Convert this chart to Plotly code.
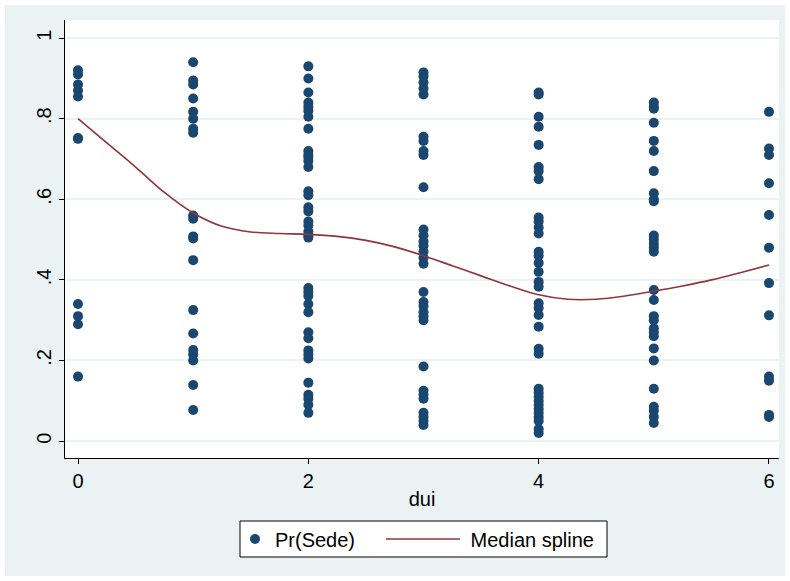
import plotly.graph_objects as go

# Pr(Sede) values by dui
col0 = [0.92, 0.91, 0.885, 0.87, 0.855, 0.752, 0.75, 0.34, 0.31, 0.29, 0.16]
col1 = [0.94, 0.895, 0.885, 0.85, 0.817, 0.80, 0.775, 0.765, 0.56, 0.552, 0.508, 0.503,
        0.449, 0.325, 0.267, 0.226, 0.215, 0.20, 0.139, 0.077]
col2 = [0.93, 0.90, 0.865, 0.84, 0.83, 0.82, 0.805, 0.775, 0.72, 0.71, 0.705, 0.695, 0.68,
        0.62, 0.61, 0.58, 0.57, 0.545, 0.535, 0.52, 0.51, 0.505, 0.38, 0.37, 0.36, 0.34,
        0.32, 0.27, 0.255, 0.225, 0.215, 0.205, 0.145, 0.115, 0.105, 0.09, 0.07]
col3 = [0.915, 0.905, 0.89, 0.875, 0.86, 0.755, 0.745, 0.72, 0.71, 0.63, 0.525, 0.51,
        0.495, 0.485, 0.47, 0.455, 0.44, 0.37, 0.345, 0.335, 0.32, 0.31, 0.30, 0.185,
        0.125, 0.115, 0.105, 0.07, 0.06, 0.05, 0.04]
col4 = [0.865, 0.86, 0.805, 0.78, 0.735, 0.68, 0.67, 0.65, 0.555, 0.545, 0.53, 0.515,
        0.47, 0.46, 0.442, 0.42, 0.395, 0.383, 0.342, 0.33, 0.313, 0.284, 0.229, 0.217,
        0.13, 0.12, 0.11, 0.10, 0.09, 0.08, 0.07, 0.06, 0.05, 0.03, 0.02]
col5 = [0.84, 0.83, 0.825, 0.79, 0.745, 0.72, 0.67, 0.615, 0.60, 0.595, 0.51, 0.50,
        0.49, 0.48, 0.47, 0.375, 0.35, 0.31, 0.30, 0.28, 0.27, 0.26, 0.23, 0.20, 0.13,
        0.085, 0.075, 0.06, 0.045]
col6 = [0.817, 0.726, 0.71, 0.64, 0.561, 0.48, 0.392, 0.312, 0.16, 0.15, 0.065, 0.06]
dui_values = [0, 1, 2, 3, 4, 5, 6]

# Median spline
spline_x = [0, 0.25, 0.5, 0.75, 1, 1.25, 1.5, 1.75, 2, 2.25, 2.5, 2.75, 3, 3.25, 3.5,
            3.75, 4, 4.25, 4.5, 4.75, 5, 5.25, 5.5, 5.75, 6]
spline_y = [0.80, 0.74, 0.68, 0.617, 0.566, 0.533, 0.519, 0.515, 0.513, 0.508, 0.498,
            0.482, 0.46, 0.435, 0.41, 0.385, 0.363, 0.352, 0.352, 0.36, 0.372, 0.385,
            0.40, 0.418, 0.437]

y_ticks = [0, 0.2, 0.4, 0.6, 0.8, 1]
y_labels = ["0", ".2", ".4", ".6", ".8", "1"]
x_ticks = [0, 2, 4, 6]

cols = [col0, col1, col2, col3, col4, col5, col6]
px, py = [], []
for d, c in zip(dui_values, cols):
    px += [d] * len(c)
    py += c

NAVY = "#1A476F"
MAROON = "#90353B"
BG = "#EAF2F3"
FONT = "Liberation Sans, Arial, sans-serif"
FS = 20

L, R, T, B = 65, 11, 20, 123
W, H = 790, 581
pw, ph = W - L - R, H - T - B


def fx(p):
    return (p - L) / pw


def fy(p):
    return (H - B - p) / ph


fig = go.Figure()
fig.add_trace(go.Scatter(x=px, y=py, mode="markers", name="Pr(Sede)", legend="legend",
                         marker=dict(color=NAVY, size=10, line=dict(width=0))))
fig.add_trace(go.Scatter(x=spline_x, y=spline_y, mode="lines", name=" Median spline",
                         legend="legend2",
                         line=dict(color=MAROON, width=1.6, shape="spline")))

leg_common = dict(orientation="h", xanchor="left", yanchor="middle", y=fy(539),
                  bgcolor="rgba(0,0,0,0)", borderwidth=0, font=dict(size=FS))

fig.update_layout(
    width=W, height=H,
    margin=dict(l=L, r=R, t=T, b=B),
    paper_bgcolor=BG, plot_bgcolor="white",
    font=dict(family=FONT, size=FS, color="black"),
    showlegend=True,
    legend=dict(x=fx(235), itemwidth=30, **leg_common),
    legend2=dict(x=fx(381), itemwidth=74, **leg_common),
    xaxis=dict(range=[-0.113, 6.087], tickvals=x_ticks, ticks="outside", ticklen=5,
               tickcolor="black", showline=True, linecolor="black", linewidth=1,
               showgrid=False, zeroline=False, tickfont=dict(size=FS),
               title=dict(text="dui", font=dict(size=FS), standoff=0)),
    yaxis=dict(range=[-0.042, 1.045], tickvals=y_ticks, ticktext=y_labels,
               ticks="outside", ticklen=5, tickcolor="black", tickangle=-90,
               tickfont=dict(size=FS),
               showline=True, linecolor="black", linewidth=1,
               showgrid=True, gridcolor=BG, gridwidth=1.5, zeroline=False),
)

# legend frame
fig.add_shape(type="rect", xref="paper", yref="paper",
              x0=fx(240), x1=fx(607), y0=fy(557), y1=fy(521),
              line=dict(color="black", width=1), fillcolor="white", layer="below")

# white outer frame
fig.add_shape(type="rect", xref="paper", yref="paper",
              x0=-L / pw, x1=(W - L) / pw, y0=-B / ph, y1=(H - B) / ph,
              line=dict(color="white", width=10), fillcolor="rgba(0,0,0,0)", layer="above")

fig.write_html("out.html")
